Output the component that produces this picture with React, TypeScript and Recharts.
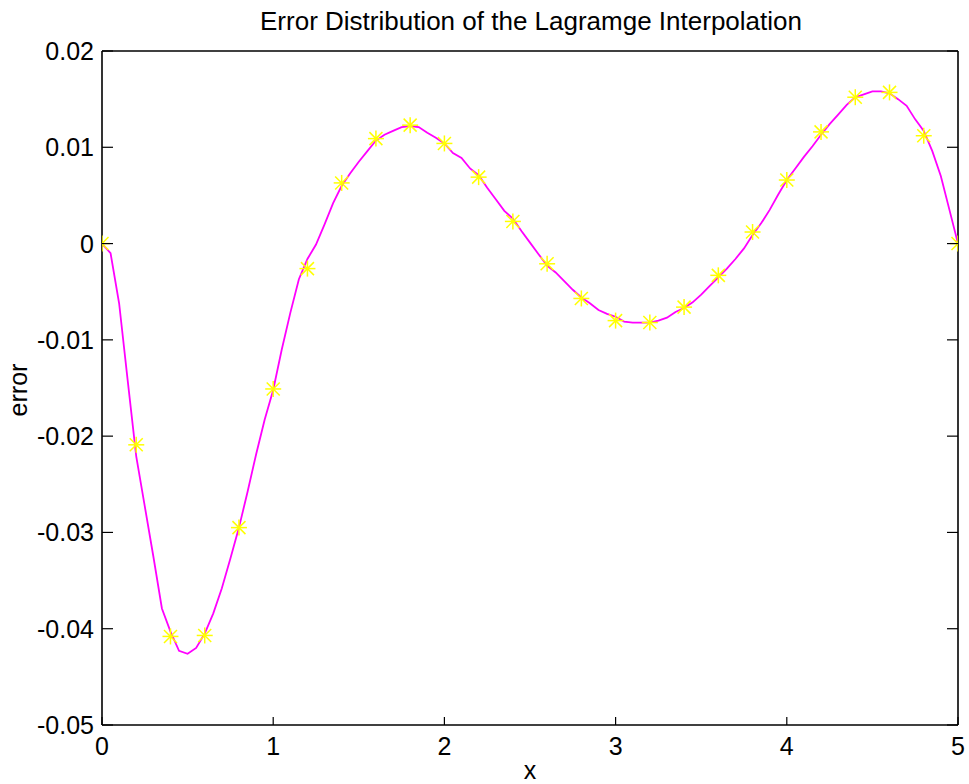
import React from 'react';
import { ComposedChart, Line, XAxis, YAxis } from 'recharts';

// error curve, sampled every 0.05
const curveX = [
  0, 0.05, 0.1, 0.15, 0.2, 0.25, 0.3, 0.35, 0.4, 0.45,
  0.5, 0.55, 0.6, 0.65, 0.7, 0.75, 0.8, 0.85, 0.9, 0.95,
  1, 1.05, 1.1, 1.15, 1.2, 1.25, 1.3, 1.35, 1.4, 1.45,
  1.5, 1.55, 1.6, 1.65, 1.7, 1.75, 1.8, 1.85, 1.9, 1.95,
  2, 2.05, 2.1, 2.15, 2.2, 2.25, 2.3, 2.35, 2.4, 2.45,
  2.5, 2.55, 2.6, 2.65, 2.7, 2.75, 2.8, 2.85, 2.9, 2.95,
  3, 3.05, 3.1, 3.15, 3.2, 3.25, 3.3, 3.35, 3.4, 3.45,
  3.5, 3.55, 3.6, 3.65, 3.7, 3.75, 3.8, 3.85, 3.9, 3.95,
  4, 4.05, 4.1, 4.15, 4.2, 4.25, 4.3, 4.35, 4.4, 4.45,
  4.5, 4.55, 4.6, 4.65, 4.7, 4.75, 4.8, 4.85, 4.9, 4.95,
  5,
];
const curveErr = [
  0, -0.001, -0.0062, -0.0142, -0.0221, -0.0273, -0.0325, -0.0379, -0.0403, -0.0423,
  -0.0426, -0.042, -0.0405, -0.0384, -0.0358, -0.0327, -0.0295, -0.0258, -0.0219, -0.0183,
  -0.0152, -0.011, -0.0072, -0.0037, -0.0016, -0.0001, 0.002, 0.0042, 0.006, 0.0073,
  0.0085, 0.0096, 0.0107, 0.0113, 0.0117, 0.0121, 0.0122, 0.0121, 0.0115, 0.011,
  0.0104, 0.0094, 0.0089, 0.0078, 0.0071, 0.0058, 0.0046, 0.0034, 0.0026, 0.0013,
  0.0001, -0.0011, -0.0023, -0.003, -0.0039, -0.0048, -0.0056, -0.0062, -0.0069, -0.0073,
  -0.0076, -0.0081, -0.0082, -0.0082, -0.0082, -0.008, -0.0077, -0.0071, -0.0067, -0.0061,
  -0.0053, -0.0044, -0.0035, -0.0026, -0.0016, -0.0005, 0.0009, 0.0021, 0.0035, 0.0051,
  0.0066, 0.0078, 0.009, 0.0101, 0.0113, 0.0124, 0.0134, 0.0144, 0.0152, 0.0155,
  0.0158, 0.0158, 0.0156, 0.015, 0.0143, 0.0129, 0.0117, 0.0096, 0.007, 0.0035,
  0,
];

// sample nodes (yellow stars)
const nodeX = [
  0, 0.2, 0.4, 0.6, 0.8, 1, 1.2, 1.4, 1.6, 1.8, 2, 2.2, 2.4,
  2.6, 2.8, 3, 3.2, 3.4, 3.6, 3.8, 4, 4.2, 4.4, 4.6, 4.8, 5,
];
const nodeErr = [
  0, -0.0209, -0.0408, -0.0407, -0.0295, -0.0151, -0.0026, 0.0063, 0.0109, 0.0123, 0.0104, 0.0069, 0.0023,
  -0.0021, -0.0057, -0.008, -0.0082, -0.0066, -0.0033, 0.0012, 0.0066, 0.0116, 0.0152, 0.0157, 0.0112, 0,
];

const xTicks = [0, 1, 2, 3, 4, 5];
const yTicks = [-0.05, -0.04, -0.03, -0.02, -0.01, 0, 0.01, 0.02];

const titleText = 'Error Distribution of the Lagramge Interpolation';
const xLabel = 'x';
const yLabel = 'error';

const curveData = curveX.map((x, i) => ({ x, err: curveErr[i] }));
const nodeData = nodeX.map((x, i) => ({ x, err: nodeErr[i] }));

const FONT = '"Liberation Sans", Arial, Helvetica, sans-serif';
const AXIS = { stroke: '#000', strokeWidth: 1.6 };

const BottomTick = ({ x, y, payload }: any) => (
  <g>
    <line x1={x} x2={x} y1={y} y2={y - 8} stroke="#000" strokeWidth={1.2} />
    <text x={x} y={y + 30} textAnchor="middle" fontSize={25} fontFamily={FONT} fill="#000">
      {String(payload.value)}
    </text>
  </g>
);

const TopTick = ({ x, y }: any) => (
  <line x1={x} x2={x} y1={y} y2={y + 8} stroke="#000" strokeWidth={1.2} />
);

const LeftTick = ({ x, y, payload }: any) => (
  <g>
    <line x1={x} x2={x + 11} y1={y} y2={y} stroke="#000" strokeWidth={1.2} />
    <text x={x - 8} y={y + 9} textAnchor="end" fontSize={25} fontFamily={FONT} fill="#000">
      {String(payload.value)}
    </text>
  </g>
);

const RightTick = ({ x, y }: any) => (
  <line x1={x} x2={x - 11} y1={y} y2={y} stroke="#000" strokeWidth={1.2} />
);

// MATLAB-style '*' marker: plus and cross
const Star = ({ cx, cy, index }: any) => {
  const r = 8;
  const d = 6.5;
  return (
    <g key={`star-${index}`} stroke="#ffff00" strokeWidth={1.5}>
      <line x1={cx - r} x2={cx + r} y1={cy} y2={cy} />
      <line x1={cx} x2={cx} y1={cy - r} y2={cy + r} />
      <line x1={cx - d} x2={cx + d} y1={cy - d} y2={cy + d} />
      <line x1={cx - d} x2={cx + d} y1={cy + d} y2={cy - d} />
    </g>
  );
};

export default function App() {
  return (
    <div style={{ position: 'absolute', left: 0, top: 0, background: '#fff' }}>
      <ComposedChart width={969} height={784} margin={{ top: 0, right: 0, bottom: 0, left: 0 }}>
        <XAxis
          xAxisId="b"
          type="number"
          dataKey="x"
          domain={[0, 5]}
          ticks={xTicks}
          allowDataOverflow
          height={59}
          axisLine={AXIS}
          tickLine={false}
          tickSize={0}
          tickMargin={0}
          tick={<BottomTick />}
        />
        <XAxis
          xAxisId="t"
          orientation="top"
          type="number"
          domain={[0, 5]}
          ticks={xTicks}
          allowDataOverflow
          height={51}
          axisLine={AXIS}
          tickLine={false}
          tickSize={0}
          tickMargin={0}
          tick={<TopTick />}
        />
        <YAxis
          yAxisId="l"
          type="number"
          domain={[-0.05, 0.02]}
          ticks={yTicks}
          allowDataOverflow
          width={102}
          axisLine={AXIS}
          tickLine={false}
          tickSize={0}
          tickMargin={0}
          tick={<LeftTick />}
        />
        <YAxis
          yAxisId="r"
          orientation="right"
          type="number"
          domain={[-0.05, 0.02]}
          ticks={yTicks}
          allowDataOverflow
          width={11}
          axisLine={AXIS}
          tickLine={false}
          tickSize={0}
          tickMargin={0}
          tick={<RightTick />}
        />
        <Line
          xAxisId="b"
          yAxisId="l"
          data={nodeData}
          dataKey="err"
          stroke="none"
          dot={Star}
          activeDot={false}
          isAnimationActive={false}
        />
        <Line
          xAxisId="b"
          yAxisId="l"
          data={curveData}
          dataKey="err"
          type="linear"
          stroke="#ff00ff"
          strokeWidth={1.8}
          dot={false}
          activeDot={false}
          isAnimationActive={false}
        />
        <text x={531} y={29.5} textAnchor="middle" fontSize={26} fontFamily={FONT} fill="#000">
          {titleText}
        </text>
        <text x={530} y={779} textAnchor="middle" fontSize={25} fontFamily={FONT} fill="#000">
          {xLabel}
        </text>
        <text
          x={27}
          y={390}
          transform="rotate(-90, 27, 390)"
          textAnchor="middle"
          fontSize={25}
          fontFamily={FONT}
          fill="#000"
        >
          {yLabel}
        </text>
      </ComposedChart>
    </div>
  );
}
